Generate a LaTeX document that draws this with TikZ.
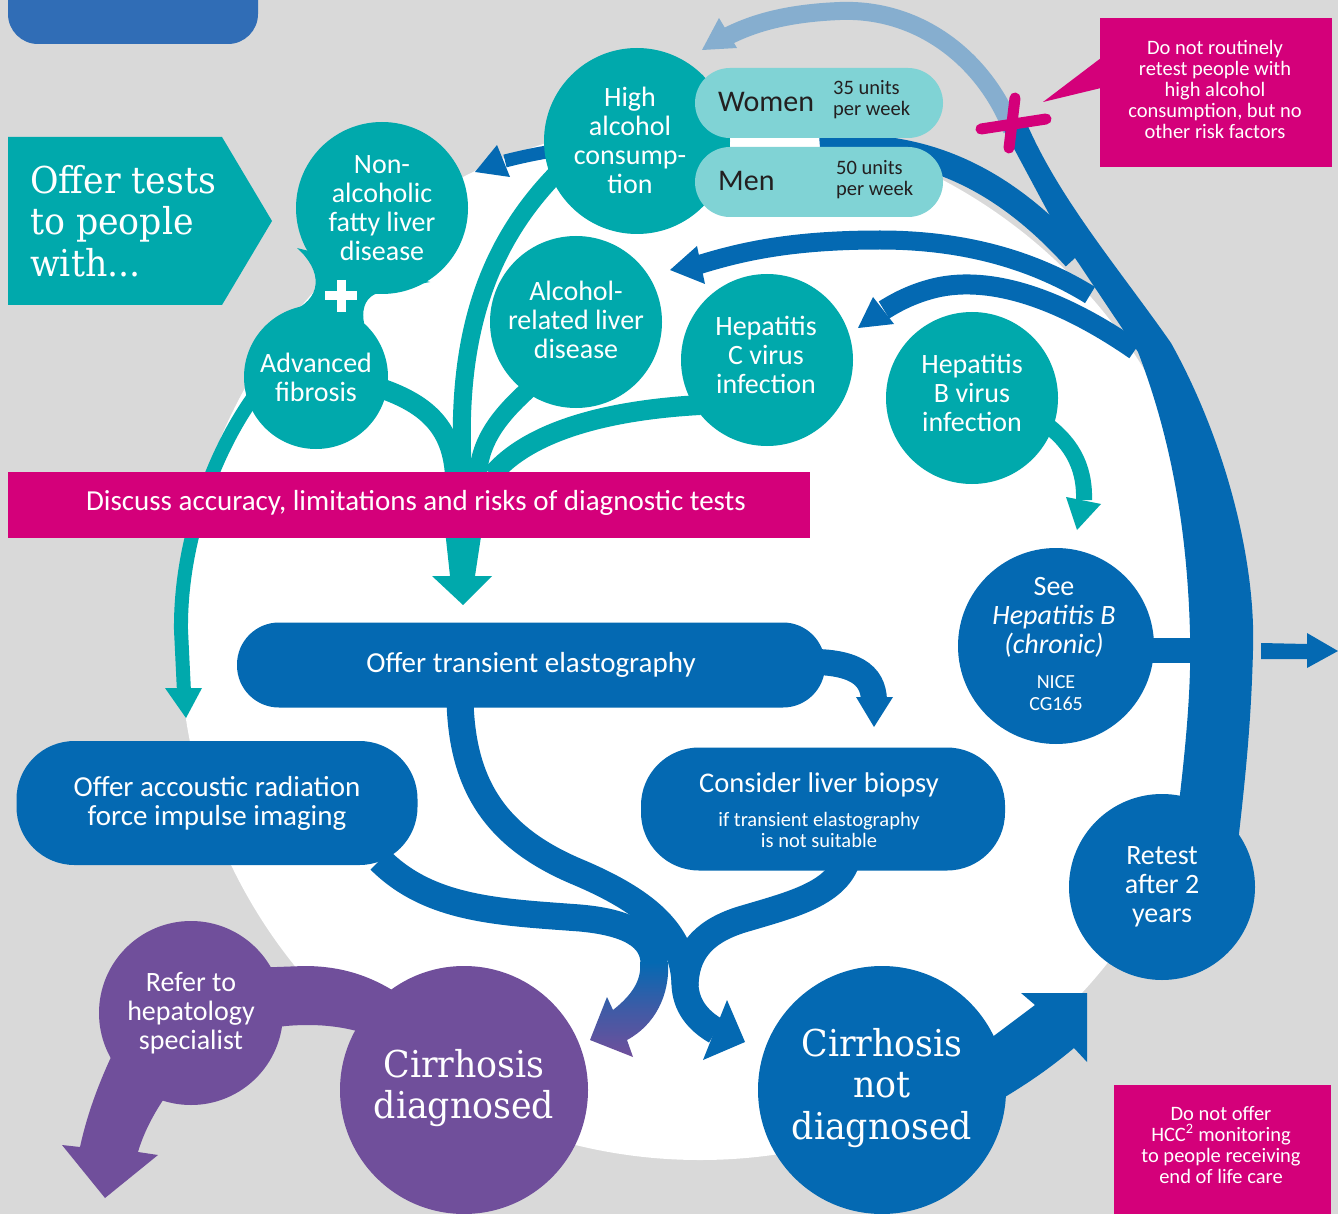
\documentclass[tikz,border=0pt]{standalone}
\usepackage{fontspec}
\setmainfont{Carlito}
\newfontfamily\slabfont[FakeStretch=0.94]{DejaVu Serif}
\definecolor{bgg}{HTML}{D9D9D9}
\definecolor{tl}{HTML}{00A9AC}
\definecolor{ltl}{HTML}{80D3D5}
\definecolor{bl}{HTML}{0469B2}
\definecolor{lbl}{HTML}{86AECF}
\definecolor{tbl}{HTML}{306DB6}
\definecolor{mg}{HTML}{D4007A}
\definecolor{pu}{HTML}{704F9B}
\definecolor{dk}{HTML}{231F20}
\begin{document}
\begin{tikzpicture}[x=1pt,y=-1pt,
  wtxt/.style={text=white,align=center,inner sep=0pt},
  dtxt/.style={text=dk,align=left,inner sep=0pt},
  ftw/.style={font=\fontsize{28}{29}\selectfont},
  fsm/.style={font=\fontsize{20.5}{21}\selectfont},
  fslab/.style={font=\slabfont\fontsize{37}{41.5}\selectfont},
  tcirc/.style={circle,fill=tl,inner sep=0pt},
  bcirc/.style={circle,fill=bl,inner sep=0pt},
  pcirc/.style={circle,fill=pu,inner sep=0pt},
  bbox/.style={fill=bl,inner sep=0pt,text=white,align=center},
  pill/.style={fill=ltl,inner sep=0pt,rounded corners=35,minimum width=248,minimum height=70}
]
\useasboundingbox (0,0) rectangle (1338,1214);
\begin{scope}
\clip (0,0) rectangle (1338,1214);
\fill[bgg] (0,0) rectangle (1338,1214);
\fill[tbl, rounded corners=30] (8,-40) rectangle (258,44);
\fill[white] (700,640) circle (520);

% light blue arc
\draw[lbl, line width=18] (1012,130) .. controls (985,60) and (920,8) .. (840,11) .. controls (790,13) and (755,22) .. (726,37);
\fill[lbl] (719,18) -- (737,48) -- (702,50) -- cycle;

% main blue arc
\fill[bl] (1004,130) -- (1027,124) .. controls (1060,200) and (1120,270) .. (1171,343) .. controls (1225,440) and (1256,560) .. (1253,650) .. controls (1251,730) and (1244,790) .. (1236,860) -- (1172,860) .. controls (1182,780) and (1192,700) .. (1190,633) .. controls (1187,520) and (1168,430) .. (1138,352) -- (1063,240) -- cycle;

% blue branches
\draw[bl, line width=25] (1075,258) .. controls (1000,175) and (920,140) .. (820,148);
\draw[bl, line width=13] (600,145) .. controls (570,148) and (540,152) .. (505,161);
\fill[bl] (497,145) -- (510,177) -- (475,172) -- cycle;
\draw[bl, line width=19] (1090,295) .. controls (1030,258) and (960,240) .. (880,240) .. controls (790,240) and (740,252) .. (698,265);
\fill[bl] (697,246) -- (705,284) -- (670,270) -- cycle;
\draw[bl, line width=20] (1135,350) .. controls (1060,298) and (990,275) .. (935,288) .. controls (915,293) and (900,300) .. (884,310);
\fill[bl] (873,297) -- (894,324) -- (858,328) -- cycle;

% See -> outside
\fill[bl] (1140,638) rectangle (1195,663);
\fill[bl] (1261,643) -- (1307,644) -- (1307,633) -- (1338,651) -- (1307,668) -- (1307,659) -- (1261,659) -- cycle;

% teal tree
\draw[tl, line width=18] (560,170) .. controls (485,245) and (455,340) .. (463,475);
\draw[tl, line width=18] (530,388) .. controls (500,415) and (480,440) .. (478,475);
\draw[tl, line width=20] (700,405) .. controls (610,410) and (530,430) .. (492,475);
\draw[tl, line width=20] (380,388) .. controls (430,405) and (452,430) .. (455,475);
\draw[tl, line width=14] (255,395) .. controls (215,450) and (180,540) .. (181,630) -- (184,692);
\fill[tl] (165,688) -- (202,688) -- (186,718) -- cycle;
\draw[tl, line width=16] (1040,420) .. controls (1070,440) and (1085,465) .. (1084,500);
\fill[tl] (1066,497) -- (1101,504) -- (1077,530) -- cycle;
\fill[tl] (445,530) -- (482,530) -- (475,576) -- (492,576) -- (463,605) -- (432,576) -- (450,576) -- cycle;

% join + teal circles
\fill[tl] (297,248) .. controls (322,270) and (325,300) .. (287,313) -- (385,360) .. controls (360,335) and (355,300) .. (378,293) .. controls (395,288) and (415,285) .. (430,282) -- cycle;
\node[tcirc, minimum size=172] (nafld) at (382,208) {};
\node[tcirc, minimum size=144] (fib) at (316,377) {};
\node[tcirc, minimum size=186] (alc) at (637,141) {};
\node[tcirc, minimum size=172] (ald) at (576,322) {};
\node[tcirc, minimum size=172] (hcv) at (767,360) {};
\node[tcirc, minimum size=172] (hbv) at (972,398) {};
\node[wtxt, ftw] (nafldt) at (382,208) {Non-\\alcoholic\\fatty liver\\disease};
\node[wtxt, ftw] (fibt) at (316,377) {Advanced\\fibrosis};
\node[wtxt, ftw] (alct) at (630,140) {High\\alcohol\\consump-\\tion};
\node[wtxt, ftw] (aldt) at (576,320) {Alcohol-\\related liver\\disease};
\node[wtxt, ftw] (hcvt) at (766,355) {Hepatitis\\C virus\\infection};
\node[wtxt, ftw] (hbvt) at (972,393) {Hepatitis\\B virus\\infection};
\draw[white, line width=9] (325,296) -- (357,296) (341,280) -- (341,312);

% Women / Men
\node[pill] (women) at (819,103) {};
\node[pill] (men) at (819,182) {};
\node[dtxt, font=\fontsize{30}{30}\selectfont, anchor=west] (wl) at (718,102) {Women};
\node[dtxt, fsm, anchor=west] (wu) at (833,100) {35 units\\per week};
\node[dtxt, font=\fontsize{30}{30}\selectfont, anchor=west] (ml) at (718,181) {Men};
\node[dtxt, fsm, anchor=west] (mu) at (836,180) {50 units\\per week};

% Offer tests
\fill[tl] (8,137) -- (222,137) -- (272,221) -- (222,305) -- (8,305) -- cycle;
\node[text=white, align=left, inner sep=0pt, fslab, anchor=west] (offer) at (30,221) {Offer tests\\to people\\with...};

% magenta bar
\node[fill=mg, minimum width=802, minimum height=66, inner sep=0pt] (bar) at (409,505) {};
\node[wtxt, font=\fontsize{29}{30}\selectfont] (bart) at (416,503) {Discuss accuracy, limitations and risks of diagnostic tests};

% bottom blue bands
\draw[bl, line width=26] (800,662) .. controls (855,660) and (873,675) .. (874,700);
\fill[bl] (856,697) -- (893,697) -- (874,727) -- cycle;
\draw[bl, line width=27] (380,860) .. controls (430,910) and (500,912) .. (580,918) .. controls (625,922) and (655,935) .. (654,965);
\shade[top color=bl, bottom color=pu, middle color=bl!45!pu] (640,962) -- (668,962) .. controls (670,995) and (655,1025) .. (627,1040) -- (633,1057) -- (590,1040) -- (607,997) -- (613,1010) .. controls (632,995) and (642,980) .. (640,962) -- cycle;
\draw[bl, line width=27] (460,700) .. controls (462,790) and (500,840) .. (580,873) .. controls (650,903) and (684,935) .. (685,985) .. controls (686,1005) and (697,1020) .. (716,1031);
\draw[bl, line width=27] (847,860) .. controls (835,895) and (790,905) .. (740,920) .. controls (700,933) and (686,955) .. (685,985);
\fill[bl] (727,1000) -- (745,1042) -- (703,1060) -- cycle;

% blue boxes
\node[bbox, minimum width=588, minimum height=85, rounded corners=42, font=\fontsize{29}{29}\selectfont] (te) at (531,665) {Offer transient elastography};
\node[bbox, minimum width=401, minimum height=124, rounded corners=58, font=\fontsize{29}{29}\selectfont] (arfi) at (217,803) {Offer accoustic radiation\\force impulse imaging};
\node[bbox, minimum width=364, minimum height=123, rounded corners=58] (bio) at (823,809) {};
\node[wtxt, font=\fontsize{28.5}{29}\selectfont] (biot) at (819,785) {Consider liver biopsy};
\node[wtxt, fsm] (biot2) at (819,830) {if transient elastography\\is not suitable};

% See circle, retest
\node[bcirc, minimum size=196] (seeb) at (1056,646) {};
\node[wtxt, ftw] (seet) at (1054,617) {See\\\textit{Hepatitis B}\\\textit{(chronic)}};
\node[wtxt, font=\fontsize{20}{22}\selectfont] (seen) at (1056,693) {NICE\\CG165};
\node[bcirc, minimum size=186, wtxt, ftw] (retest) at (1162,887) {Retest\\after 2\\years};

% not diagnosed -> retest
\fill[bl] (975,1050) -- (1035,1005) -- (1021,993) -- (1087,993) -- (1087,1062) -- (1074,1048) .. controls (1050,1068) and (1030,1082) .. (1000,1100) -- cycle;
\node[bcirc, minimum size=248] (cnd) at (882,1090) {};
\node[wtxt, fslab] (cndt) at (882,1088) {Cirrhosis\\not\\diagnosed};

% purple
\fill[pu] (250,968) -- (304,966) .. controls (340,966) and (370,975) .. (400,995) -- (400,1050) .. controls (370,1030) and (330,1022) .. (286,1026) -- (250,1030) -- cycle;
\fill[pu] (112,1055) -- (170,1090) .. controls (152,1115) and (143,1135) .. (138,1152) -- (158,1155) -- (105,1198) -- (62,1145) -- (80,1147) .. controls (87,1115) and (98,1085) .. (112,1055) -- cycle;
\node[pcirc, minimum size=248] (cd) at (464,1090) {};
\node[wtxt, fslab] (cdt) at (464,1088) {Cirrhosis\\diagnosed};
\node[pcirc, minimum size=184, wtxt, ftw] (refer) at (191,1013) {Refer to\\hepatology\\specialist};

% magenta callouts
\fill[mg] (1100,18) rectangle (1332,167);
\fill[mg] (1101,58) -- (1043,102) -- (1101,88) -- cycle;
\node[wtxt, fsm] (c1) at (1215,89) {Do not routinely\\retest people with\\high alcohol\\consumption, but no\\other risk factors};
\draw[mg, line width=11, line cap=round] (981,129) -- (1046,119) (1015,98) -- (1009,148);
\fill[mg] (1114,1085) rectangle (1331,1214);
\node[wtxt, fsm] (c2) at (1221,1145) {Do not offer\\HCC\textsuperscript{2} monitoring\\to people receiving\\end of life care};
\end{scope}
\end{tikzpicture}
\end{document}
